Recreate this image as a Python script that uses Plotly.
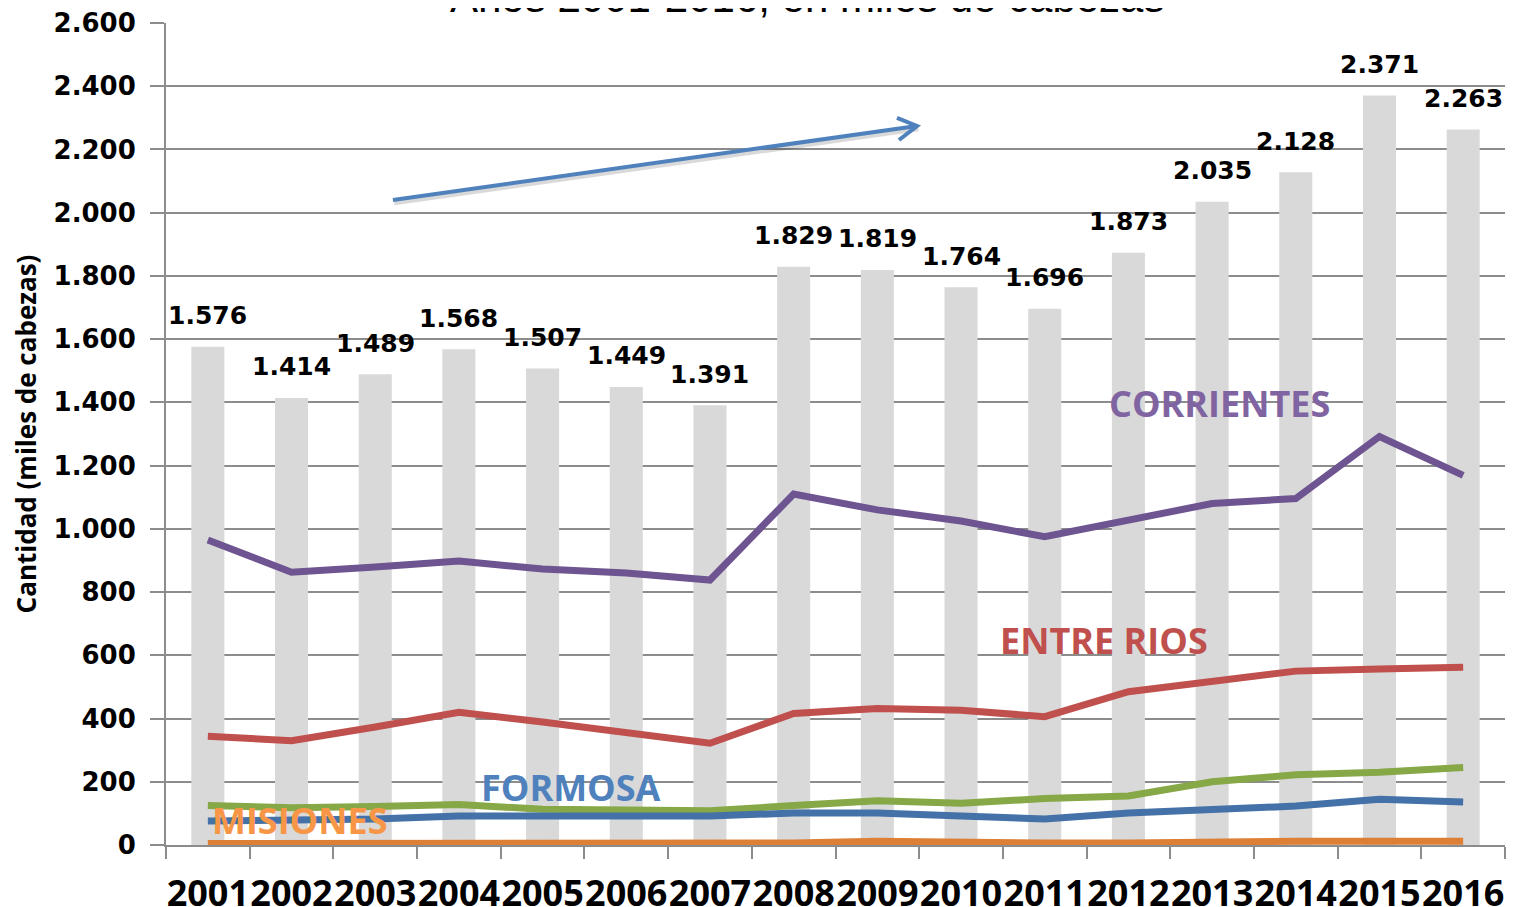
import plotly.graph_objects as go

years = list(range(2001, 2017))
total = [1576, 1414, 1489, 1568, 1507, 1449, 1391, 1829, 1819, 1764, 1696, 1873, 2035, 2128, 2371, 2263]
corrientes = [965, 863, 879, 898, 873, 860, 838, 1110, 1060, 1025, 975, 1028, 1080, 1096, 1292, 1169]
entre_rios = [344, 330, 373, 420, 389, 354, 322, 416, 432, 426, 406, 485, 515, 550, 557, 562]
serie_verde = [125, 118, 122, 128, 113, 112, 108, 125, 140, 132, 147, 155, 200, 222, 230, 245]
formosa = [76, 79, 82, 92, 92, 92, 92, 101, 101, 92, 82, 101, 114, 123, 145, 136]
misiones = [5, 5, 5, 5, 5, 5, 5, 6, 12, 7, 6, 6, 11, 12, 12, 12]

def fmt(v):
    return f"{v:,}".replace(",", ".")

fig = go.Figure()
fig.add_trace(go.Bar(x=years, y=total, name="Total", marker=dict(color="#D9D9D9", line=dict(width=0)),
                     showlegend=False))

series = [
    ("CORRIENTES", corrientes, "#6E5490"),
    ("ENTRE RIOS", entre_rios, "#C0504D"),
    ("Serie verde", serie_verde, "#86A846"),
    ("FORMOSA", formosa, "#4472A8"),
    ("MISIONES", misiones, "#DE7F36"),
]
for name, vals, col in series:
    fig.add_trace(go.Scatter(x=years, y=vals, name=name, mode="lines",
                             line=dict(color=col, width=7), showlegend=False))

annotations = []
for yr, v in zip(years, total):
    annotations.append(dict(x=yr, y=v, xref="x", yref="y", text=fmt(v), showarrow=False,
                            yanchor="middle", yshift=31,
                            font=dict(family="DejaVu Sans", size=25, color="black", weight="bold")))

labels = [
    ("CORRIENTES", 2013.09, 1395, "#8064A2"),
    ("ENTRE RIOS", 2011.71, 648, "#C0504D"),
    ("FORMOSA", 2005.34, 183, "#4F81BD"),
    ("MISIONES", 2002.10, 79, "#F79646"),
]
for txt, xi, yv, col in labels:
    annotations.append(dict(x=xi, y=yv, xref="x", yref="y", text=txt, showarrow=False,
                            xanchor="center", yanchor="middle",
                            font=dict(family="Open Sans", size=36, color=col, weight="bold")))

annotations.append(dict(x=0.479, y=1.0, xref="paper", yref="paper", text="Años 2001-2016, en miles de cabezas",
                        showarrow=False, xanchor="center", yanchor="bottom", yshift=0,
                        font=dict(family="Liberation Sans", size=42, color="black")))

# trend arrow (decoration)
tail = (0.1695, 0.7847)
head = (0.5609, 0.8747)
arm1 = (0.5459, 0.8845)
arm2 = (0.5474, 0.8577)
shapes = [
    dict(type="path", xref="paper", yref="paper",
         path=f"M {tail[0]+0.001},{tail[1]-0.004} L {head[0]+0.001},{head[1]-0.004}",
         line=dict(color="rgba(0,0,0,0.15)", width=4)),
    dict(type="path", xref="paper", yref="paper",
         path=f"M {tail[0]},{tail[1]} L {head[0]},{head[1]}",
         line=dict(color="#4F81BD", width=4)),
    dict(type="path", xref="paper", yref="paper",
         path=f"M {arm1[0]},{arm1[1]} L {head[0]},{head[1]} L {arm2[0]},{arm2[1]}",
         line=dict(color="#4F81BD", width=4)),
]

fig.update_layout(
    width=1519, height=907,
    margin=dict(l=158, r=22, t=15, b=70),
    plot_bgcolor="white", paper_bgcolor="white",
    separators=",.",
    bargap=0.605,
    annotations=annotations,
    shapes=shapes,
    showlegend=False,
)
fig.update_xaxes(type="linear", range=[2000.5, 2016.5], tickvals=years, ticktext=[str(y) for y in years],
                 ticks="", tickangle=0, automargin=False,
                 minor=dict(tick0=2000.5, dtick=1, ticks="outside", ticklen=12, tickwidth=2,
                            tickcolor="#8C8C8C", showgrid=False),
                 showline=True, linecolor="#8C8C8C", linewidth=2,
                 showgrid=False, zeroline=False, ticklabelstandoff=16,
                 tickfont=dict(family="Open Sans", size=36, color="black", weight="bold"))
fig.update_yaxes(range=[0, 2600], dtick=200, tickformat=",d", ticks="outside", ticklen=14, tickwidth=2,
                 tickcolor="#8C8C8C", showline=True, linecolor="#8C8C8C", linewidth=2,
                 showgrid=True, gridcolor="#8C8C8C", gridwidth=2, zeroline=False,
                 ticklabelstandoff=9, automargin=False,
                 tickfont=dict(family="DejaVu Sans", size=26, color="black", weight="bold"),
                 title=dict(text="Cantidad (miles de cabezas)", standoff=10,
                            font=dict(family="Open Sans", size=26, color="black", weight="bold")))

fig.write_html("out.html")
